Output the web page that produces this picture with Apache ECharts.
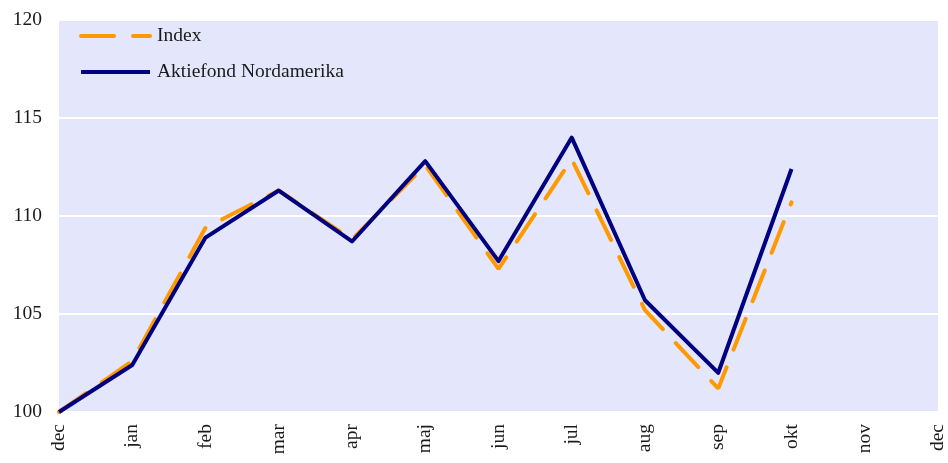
<!DOCTYPE html>
<html>
<head>
<meta charset="utf-8">
<script src="https://cdn.jsdelivr.net/npm/echarts@6/dist/echarts.min.js"></script>
<style>
  html, body { margin: 0; padding: 0; background: #fff; }
  #main { width: 948px; height: 463px; }
</style>
</head>
<body>
<div id="main"></div>
<script>
var months = ['dec', 'jan', 'feb', 'mar', 'apr', 'maj', 'jun', 'jul', 'aug', 'sep', 'okt', 'nov', 'dec'];
var indexValues = [100, 102.6, 109.4, 111.3, 108.8, 112.6, 107.3, 112.9, 105.2, 101.2, 110.7, null, null];
var fundValues = [100, 102.4, 108.9, 111.3, 108.7, 112.8, 107.7, 114.0, 105.7, 102.0, 112.4, null, null];

var font = 'Liberation Serif';
var textColor = '#1a1a1a';

var myChart = echarts.init(document.getElementById('main'));
myChart.setOption({
    animation: false,
    grid: {
        left: 59,
        right: 8,
        top: 20,
        bottom: 51,
        show: true,
        backgroundColor: '#E4E6FB',
        borderWidth: 0
    },
    legend: {
        orient: 'vertical',
        left: 79,
        top: 26,
        padding: 0,
        itemGap: 16,
        itemWidth: 69,
        itemHeight: 14,
        // hide the circle that ECharts puts in the legend line
        itemStyle: {opacity: 0},
        lineStyle: {width: 4},
        textStyle: {fontFamily: font, fontSize: 19.5, color: textColor, padding: [0, 0, 0, 2]},
        data: ['Index', 'Aktiefond Nordamerika']
    },
    xAxis: {
        type: 'category',
        boundaryGap: false,
        data: months,
        axisLine: {show: false},
        axisTick: {show: false},
        axisLabel: {
            rotate: 90,
            margin: 12,
            interval: 0,
            fontFamily: font,
            fontSize: 19.5,
            color: textColor
        }
    },
    yAxis: {
        type: 'value',
        min: 100,
        max: 120,
        interval: 5,
        axisLine: {show: false},
        axisTick: {show: false},
        axisLabel: {
            margin: 17,
            fontFamily: font,
            fontSize: 19.5,
            color: textColor
        },
        splitLine: {lineStyle: {color: '#ffffff', width: 2}}
    },
    series: [
        {
            name: 'Index',
            type: 'line',
            data: indexValues,
            symbol: 'none',
            color: '#FF9900',
            lineStyle: {color: '#FF9900', width: 4, type: [33, 19], cap: 'round'}
        },
        {
            name: 'Aktiefond Nordamerika',
            type: 'line',
            data: fundValues,
            symbol: 'none',
            color: '#000080',
            lineStyle: {color: '#000080', width: 4, join: 'round'}
        }
    ]
});
</script>
</body>
</html>
